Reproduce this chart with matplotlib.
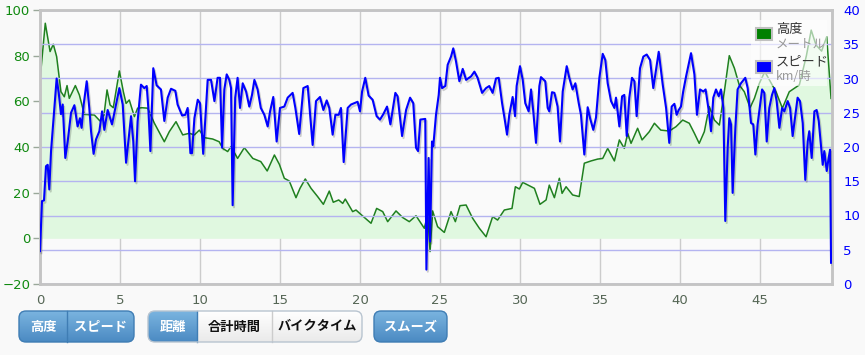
import numpy as np
import matplotlib.pyplot as plt
import matplotlib.patheffects as pe
from matplotlib.patches import FancyBboxPatch, Rectangle
from matplotlib.colors import LinearSegmentedColormap

# altitude profile (km, m)
alt_km = [0, 0.33, 0.63, 0.83, 1.04, 1.31, 1.52, 1.69, 1.83, 2.21, 2.46, 2.77, 3.4, 3.75,
          4.0, 4.19, 4.38, 4.58, 4.96, 5.21, 5.38, 5.58, 5.9, 6.1, 6.38, 6.73, 7.15, 7.46,
          7.77, 8.08, 8.5, 8.92, 9.33, 9.65, 9.96, 10.27, 10.79, 11.2, 11.42, 11.73, 11.94,
          12.35, 12.77, 13.3, 13.8, 14.2, 14.65, 14.96, 15.27, 15.58, 16.0, 16.25, 16.58,
          16.94, 17.35, 17.71, 18.08, 18.33, 18.67, 18.92, 19.08, 19.54, 19.75, 20.1, 20.69,
          21.04, 21.42, 21.73, 22.25, 22.67, 23.08, 23.5, 24.02, 24.23, 24.38, 24.54, 24.85,
          25.27, 25.69, 25.96, 26.25, 26.63, 27.04, 27.46, 27.88, 28.29, 28.6, 29.02, 29.5,
          29.71, 29.96, 30.17, 30.9, 31.25, 31.63, 31.83, 32.15, 32.46, 32.63, 32.88, 33.29,
          33.7, 34.02, 34.44, 34.85, 35.17, 35.48, 35.9, 36.21, 36.52, 36.73, 36.94, 37.35,
          37.63, 38.08, 38.4, 38.8, 39.33, 39.75, 40.17, 40.58, 40.9, 41.2, 41.52, 41.83,
          42.15, 42.46, 42.77, 43.08, 43.4, 43.7, 44.02, 44.38, 44.65, 44.96, 45.3, 46.0,
          46.4, 46.83, 47.46, 47.9, 48.2, 48.5, 48.85, 49.17, 49.44]
alt_m = [69.3, 94.2, 81.8, 85, 79.6, 64.2, 62, 66.9, 61.3, 66.9, 62.8, 54.3, 54, 51.4,
         54, 65, 58.4, 57.2, 73.3, 64.2, 59.1, 60.6, 53.3, 57, 57.2, 57, 50.4, 46.4,
         42.3, 46.7, 51.1, 45.3, 46, 45.3, 47.4, 44.1, 43.5, 42.3, 39.4, 38, 40.2,
         35, 39.7, 35, 33.6, 29.5, 36.5, 32.4, 26.3, 25.1, 17.8, 21.9, 26,
         21.9, 18.3, 14.9, 20.7, 15.8, 16.8, 15.3, 17.2, 11.7, 12.4, 10.2, 6.6,
         13.1, 11.7, 7.3, 12, 9.1, 7.3, 9.9, 4.4, 10.5, -5.8, 12, 5.1,
         2.6, 11.7, 7.3, 14.3, 14.6, 8.8, 4.4, 0.7, 9.5, 8, 12.4, 13.1,
         22.6, 21.6, 24.5, 21.9, 14.9, 16.8, 23.3, 17.8, 26.3, 19.7, 22.6, 19,
         18.3, 32.9, 33.9, 34.7, 35, 39.4, 33.9, 43.1, 39.4, 46, 41.6, 48.2,
         43.1, 46.7, 50.4, 47.4, 47, 48.9, 51.8, 50.4, 46, 41.6, 46.7, 57.7,
         51.8, 49.6, 64.2, 80, 74.5, 67.2, 64.2, 57.2, 61.3, 67.9, 73, 64.2,
         57, 64.2, 67.2, 80, 91.2, 84.7, 82, 88.3, 61.3]

# speed (km, km/h)
spd_km = [0, 0.125, 0.25, 0.375, 0.48, 0.58, 0.69, 0.9, 1.04, 1.17, 1.31, 1.42, 1.58, 1.73,
          1.94, 2.15, 2.35, 2.5, 2.6, 2.73, 2.92, 3.08, 3.19, 3.35, 3.5, 3.71, 3.88, 4.02,
          4.23, 4.5, 4.71, 4.96, 5.17, 5.38, 5.69, 5.83, 5.94, 6.1, 6.31, 6.52, 6.67, 6.77,
          6.9, 7.08, 7.29, 7.56, 7.77, 7.98, 8.19, 8.46, 8.6, 8.88, 9.08, 9.23, 9.4, 9.5,
          9.65, 9.86, 10.0, 10.2, 10.48, 10.69, 10.9, 11.1, 11.25, 11.38, 11.52, 11.67,
          11.83, 11.94, 12.04, 12.2, 12.35, 12.5, 12.67, 12.88, 13.08, 13.25, 13.4, 13.6,
          13.8, 14.02, 14.23, 14.38, 14.58, 14.79, 15.0, 15.27, 15.48, 15.79, 15.96, 16.2,
          16.46, 16.73, 16.83, 17.04, 17.25, 17.5, 17.71, 17.92, 18.08, 18.29, 18.46, 18.67,
          18.81, 18.98, 19.23, 19.44, 19.65, 19.85, 20.0, 20.13, 20.33, 20.54, 20.79, 21.04,
          21.25, 21.46, 21.69, 21.9, 22.21, 22.35, 22.63, 22.88, 23.13, 23.33, 23.5, 23.63,
          23.77, 24.08, 24.15, 24.29, 24.38, 24.5, 24.58, 24.75, 24.92, 25.0, 25.13, 25.33,
          25.48, 25.69, 25.83, 26.0, 26.21, 26.42, 26.63, 26.94, 27.15, 27.35, 27.63, 27.88,
          28.08, 28.29, 28.5, 28.67, 28.88, 29.06, 29.19, 29.33, 29.54, 29.69, 29.79, 30.0,
          30.17, 30.33, 30.54, 30.69, 30.83, 31.0, 31.21, 31.31, 31.58, 31.73, 31.83, 32.0,
          32.15, 32.35, 32.5, 32.67, 32.92, 33.08, 33.29, 33.46, 33.67, 33.81, 34.02, 34.23,
          34.38, 34.58, 34.75, 34.96, 35.17, 35.33, 35.48, 35.69, 35.9, 36.0, 36.21, 36.38,
          36.52, 36.67, 36.83, 37.0, 37.15, 37.29, 37.5, 37.71, 37.92, 38.13, 38.33, 38.5,
          38.67, 38.92, 39.13, 39.33, 39.48, 39.65, 39.79, 39.92, 40.06, 40.2, 40.38, 40.69,
          40.9, 41.06, 41.25, 41.46, 41.6, 41.79, 41.94, 42.08, 42.25, 42.42, 42.56, 42.71,
          42.83, 42.98, 43.08, 43.19, 43.29, 43.46, 43.6, 43.81, 44.08, 44.23, 44.44, 44.58,
          44.71, 44.85, 45.13, 45.27, 45.42, 45.58, 45.75, 45.9, 46.04, 46.21, 46.38, 46.52,
          46.73, 46.88, 47.04, 47.21, 47.35, 47.5, 47.67, 47.83, 47.98, 48.08, 48.23, 48.4,
          48.54, 48.67, 48.92, 49.02, 49.17, 49.29, 49.38, 49.44]
spd_kmh = [4.8, 12.1, 12.2, 17.2, 17.4, 13.8, 19.4, 25.7, 30, 27.9, 24.8, 26.2, 18.4, 20.8,
           25, 26.1, 23, 24.2, 22.8, 26.2, 29.6, 25.7, 22.3, 19, 21.1, 22.3, 25.2, 22.5,
           25.4, 23.3, 25.7, 28.6, 26.2, 17.7, 24.5, 20.8, 15, 23.7, 29.1, 28.6, 28.9, 25.7,
           19.4, 31.5, 29, 28.4, 23.8, 27.2, 28.5, 28.2, 26.2, 24.6, 24.7, 25.7, 19.1, 19.1,
           24.2, 26.9, 26.4, 19, 29.8, 29.8, 26.7, 30.1, 30.1, 19.9, 28.4, 30.6,
           29.8, 28.6, 11.5, 27.2, 30.1, 25.7, 29.3, 28.1, 25.9, 27.6, 29.8, 28.4,
           25.7, 24.7, 23, 25.2, 27.3, 20.8, 25.7, 25.9, 27.2, 27.9, 25.7, 21.9,
           28.6, 28.9, 26.2, 20.3, 26.7, 27.3, 25.4, 26.8, 25.7, 21.8, 24.7, 24.7,
           25.7, 17.8, 25.7, 26.2, 26.4, 26.6, 25.2, 28.1, 30.1, 27.5, 26.9, 24.5,
           24, 24.8, 25.9, 23.3, 27.9, 27.4, 21.6, 25.4, 27.2, 26.4, 19.9, 19.4,
           24, 24.1, 2.1, 18.4, 6.2, 20.8, 20.1, 24.7, 27.6, 30.1, 28.6, 28.9,
           32, 33.2, 34.4, 32.5, 29.6, 31.4, 29.8, 30.3, 31, 30.1, 27.9, 28.6,
           28.9, 27.9, 30, 30.1, 26.4, 23.8, 21.8, 24.7, 27.3, 24.5, 28.9, 31.8,
           29.8, 26.4, 25.2, 28.4, 25.2, 20.6, 28.9, 30.2, 29.6, 25.7, 25.2, 28,
           27.9, 25.9, 20.8, 28.1, 31.8, 30.1, 28.4, 29.3, 26.4, 24.7, 18.9, 25.8,
           24.2, 22.5, 24.3, 30.1, 33.6, 32.7, 29.3, 26.7, 25.7, 27.2, 23, 27.4,
           27.6, 21.6, 27.2, 30.1, 29.6, 24.5, 31.5, 33.2, 33.5, 32.7, 28.6, 31.3,
           33.9, 29.1, 25.7, 20.6, 25.9, 26.3, 24.7, 25.4, 25.9, 28.1, 30.3, 33.7,
           30.6, 24.7, 28.4, 28.1, 28.4, 25.4, 22.3, 27.2, 28.4, 27.4, 28.4, 25.7,
           9.2, 19.9, 24.2, 23.3, 13.3, 22.8, 28.4, 29.3, 30.1, 28.6, 23.5, 23.3,
           18.9, 23.3, 28.4, 27.9, 20.8, 25.7, 27.6, 28.6, 26.7, 22.8, 25.7, 25.2,
           26.7, 25.7, 21.6, 24.7, 27.2, 26.7, 23.5, 15.2, 20.8, 22.3, 18.4, 25.2,
           25.4, 23.8, 17.4, 19.4, 16.5, 18.4, 19.6, 3.1]

x_ticks = [0, 5, 10, 15, 20, 25, 30, 35, 40, 45]
alt_ticks = [-20, 0, 20, 40, 60, 80, 100]
spd_ticks = [0, 5, 10, 15, 20, 25, 30, 35, 40]

legend_items = [("高度", "メートル", "#008000"), ("スピード", "km/時", "#0000ff")]
button_groups = [
    [("高度", True), ("スピード", True)],
    [("距離", True), ("合計時間", False), ("バイクタイム", False)],
    [("スムーズ", True)],
]

CJK = ['Noto Sans CJK JP', 'DejaVu Sans']
W, H = 865, 355

fig = plt.figure(figsize=(W / 100, H / 100), dpi=100, facecolor='#f9f9f9')
ax = fig.add_axes([40 / W, 1 - 284 / H, 792 / W, 274 / H])
ax.set_facecolor('#fafafa')

ax.fill_between(alt_km, alt_m, 0, color='#e0f8e0', lw=0, zorder=1)
ax.plot(alt_km, alt_m, color='#1f801f', lw=1.1, zorder=2)
ax.set_xlim(0, 49.5)
ax.set_ylim(-20, 100)
ax.set_xticks(x_ticks)
ax.set_yticks(alt_ticks)
ax.grid(axis='x', color='#cccccc', lw=1)
ax.set_axisbelow(True)
ax.tick_params(axis='y', colors='#9aa89a', labelcolor='#108a10', length=5, width=1, labelsize=9.5, pad=2)
ax.tick_params(axis='x', length=0, labelcolor='#556655', labelsize=9.5, pad=7)

ax2 = ax.twinx()
ax2.plot(spd_km, spd_kmh, color='#0000ff', lw=1.5, zorder=3,
         path_effects=[pe.SimpleLineShadow(offset=(1, -1.5), alpha=0.18), pe.Normal()])
ax2.set_ylim(0, 40)
ax2.set_yticks(spd_ticks)
ax2.grid(axis='y', color='#b4b4f0', lw=1)
ax2.tick_params(axis='y', length=0, labelcolor='#0000ff', labelsize=9.5, pad=8)

for a in (ax, ax2):
    for s in a.spines.values():
        s.set_color('#c4c4c4')
        s.set_linewidth(1.8)

# overlay in pixel coordinates for legend and buttons
ov = fig.add_axes([0, 0, 1, 1])
ov.set_xlim(0, W)
ov.set_ylim(H, 0)
ov.axis('off')

ov.add_patch(Rectangle((751, 20), 76, 66, facecolor='white', alpha=0.6, lw=0))
for i, (name, unit, col) in enumerate(legend_items):
    y0 = 28 + i * 33
    ov.add_patch(Rectangle((756, y0), 16, 12, facecolor=col, edgecolor='#c0c0c0', lw=1.5))
    ov.text(776, y0 + 1, name, family=CJK, fontsize=9.5, color='#333333', va='center')
    ov.text(776, y0 + 16, unit, family=CJK, fontsize=9, color='#999999', va='center')

blue_cm = LinearSegmentedColormap.from_list('btnblue', ['#7ab4e0', '#4b8ac2'])
white_cm = LinearSegmentedColormap.from_list('btnwhite', ['#ffffff', '#eaeaea'])
grad = np.linspace(0, 1, 64).reshape(-1, 1)

group_x = [19, 148, 374]
seg_w = [[48, 67], [49, 75, 90], [73]]
y_top, y_bot = 311, 342
for gx, widths, group in zip(group_x, seg_w, button_groups):
    total = sum(widths)
    shape = FancyBboxPatch((gx, y_top), total, y_bot - y_top,
                           boxstyle='round,pad=0,rounding_size=7',
                           facecolor='none', edgecolor='none')
    ov.add_patch(shape)
    x = gx
    for w, (label, active) in zip(widths, group):
        img = ov.imshow(grad, cmap=blue_cm if active else white_cm, aspect='auto',
                        extent=(x, x + w, y_bot, y_top), zorder=2)
        img.set_clip_path(shape)
        ov.text(x + w / 2, (y_top + y_bot) / 2, label, family=CJK, fontsize=9.5,
                fontweight='bold', color='white' if active else '#111111',
                ha='center', va='center', zorder=4)
        x += w
    x = gx
    for w, (label, active) in list(zip(widths, group))[:-1]:
        x += w
        ov.plot([x, x], [y_top, y_bot], color='#3f7db4' if active else '#cccccc', lw=1, zorder=3)
    edge = '#3f7db4' if all(a for _, a in group) else '#b8c4d0'
    ov.add_patch(FancyBboxPatch((gx, y_top), total, y_bot - y_top,
                                boxstyle='round,pad=0,rounding_size=7',
                                facecolor='none', edgecolor=edge, lw=1, zorder=3))

ov.set_xlim(0, W)
ov.set_ylim(H, 0)

fig.savefig('out.png', dpi=100, facecolor=fig.get_facecolor())
